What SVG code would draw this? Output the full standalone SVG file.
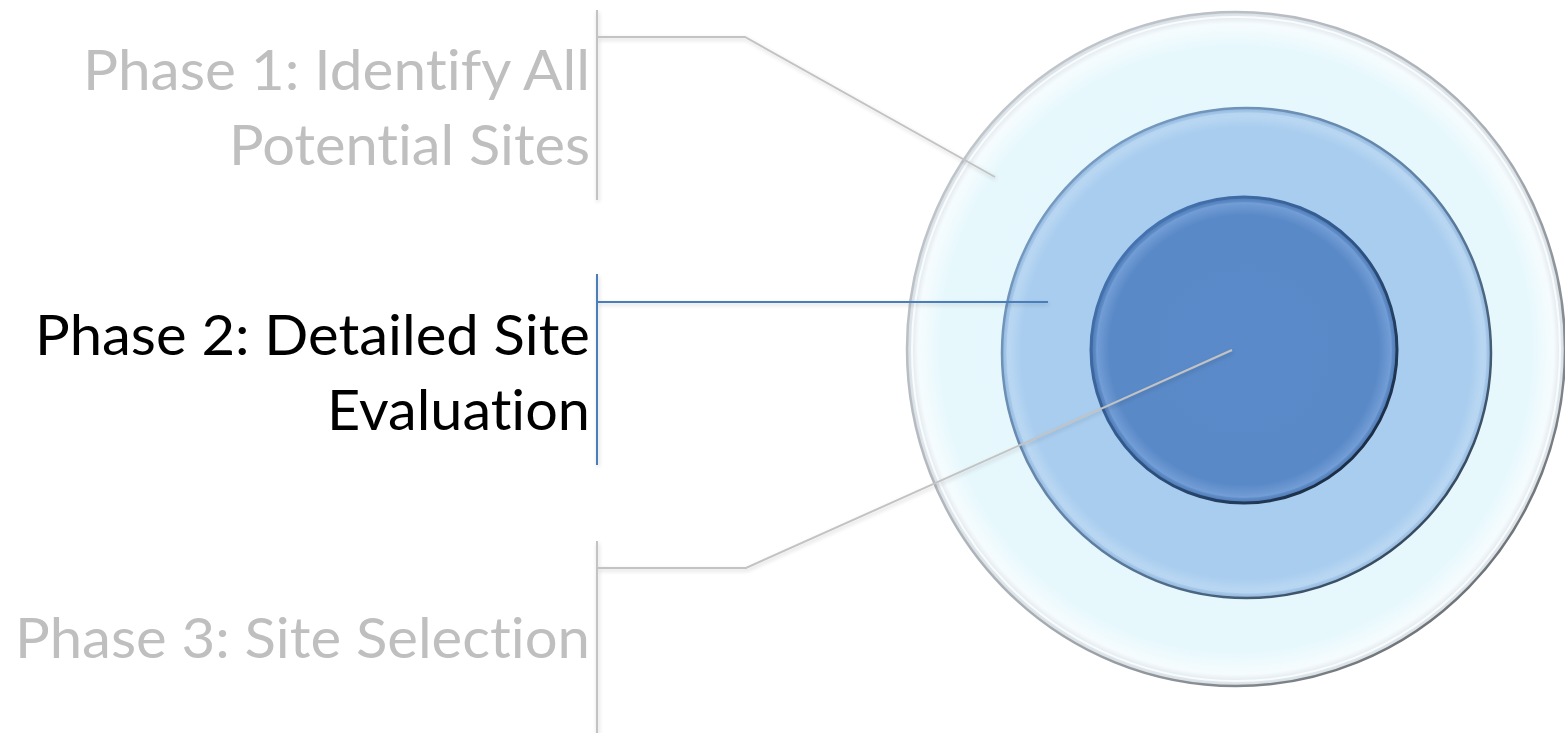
<svg xmlns="http://www.w3.org/2000/svg" width="1565" height="733" viewBox="0 0 1565 733">
<style>
  .lbl { font-family: "Lato", "Open Sans", "Liberation Sans", sans-serif; font-size: 57px; text-anchor: end; font-variant-ligatures: none; font-feature-settings: "liga" 0, "clig" 0; }
  .dim { fill: #bfbfbf; }
  .act { fill: #000000; }
  .cg { fill: none; stroke: #c3c3c3; stroke-width: 2; }
  .cb { fill: none; stroke: #4a7ebb; stroke-width: 2; }
</style>
<defs>
  <filter id="sh" x="-5%" y="-20%" width="110%" height="140%">
    <feGaussianBlur in="SourceAlpha" stdDeviation="2"/>
    <feOffset dx="1" dy="2" result="b"/>
    <feComponentTransfer><feFuncA type="linear" slope="0.18"/></feComponentTransfer>
    <feMerge><feMergeNode/><feMergeNode in="SourceGraphic"/></feMerge>
  </filter>
  <radialGradient id="gOuter" cx="0.5" cy="0.5" r="0.5">
    <stop offset="0" stop-color="#e3f6fc"/>
    <stop offset="0.9" stop-color="#e7f8fd"/>
    <stop offset="0.965" stop-color="#f6fcfe"/>
    <stop offset="1" stop-color="#d4dde4"/>
  </radialGradient>
  <linearGradient id="rOuter" x1="0" y1="0" x2="1" y2="1">
    <stop offset="0" stop-color="#c9ced3"/>
    <stop offset="0.55" stop-color="#a7adb3"/>
    <stop offset="1" stop-color="#55595d"/>
  </linearGradient>
  <radialGradient id="gMid" cx="0.5" cy="0.5" r="0.5">
    <stop offset="0" stop-color="#a8cdf0"/>
    <stop offset="0.92" stop-color="#a9cdef"/>
    <stop offset="0.97" stop-color="#b9d7f2"/>
    <stop offset="1" stop-color="#8fb6de"/>
  </radialGradient>
  <linearGradient id="rMid" x1="0" y1="0" x2="1" y2="1">
    <stop offset="0" stop-color="#7ea3cc"/>
    <stop offset="0.55" stop-color="#5d7d9f"/>
    <stop offset="1" stop-color="#26323e"/>
  </linearGradient>
  <radialGradient id="gIn" cx="0.5" cy="0.5" r="0.5">
    <stop offset="0" stop-color="#5a8ac9"/>
    <stop offset="0.88" stop-color="#5989c7"/>
    <stop offset="0.95" stop-color="#6f9ad3"/>
    <stop offset="1" stop-color="#4a78b4"/>
  </radialGradient>
  <linearGradient id="rIn" x1="0" y1="0" x2="1" y2="1">
    <stop offset="0" stop-color="#4d7fc0"/>
    <stop offset="0.5" stop-color="#2f5586"/>
    <stop offset="1" stop-color="#141e2a"/>
  </linearGradient>
</defs>

<g id="outer-ring">
  <ellipse cx="1236" cy="349" rx="329" ry="337" fill="url(#gOuter)" stroke="url(#rOuter)" stroke-width="2.5"/>
  <ellipse cx="1236" cy="349" rx="324" ry="332" fill="none" stroke="#ffffff" stroke-opacity="0.8" stroke-width="2"/>
</g>
<g id="middle-ring">
  <ellipse cx="1246.5" cy="353" rx="244.5" ry="245" fill="url(#gMid)" stroke="url(#rMid)" stroke-width="2.5"/>
  <ellipse cx="1246.5" cy="353" rx="239" ry="239.5" fill="none" stroke="#bcd9f4" stroke-opacity="0.7" stroke-width="2"/>
</g>
<g id="inner-circle">
  <circle cx="1244" cy="350" r="153" fill="url(#gIn)" stroke="url(#rIn)" stroke-width="3"/>
  <circle cx="1244" cy="350" r="147" fill="none" stroke="#78a4dc" stroke-opacity="0.6" stroke-width="2"/>
</g>

<g id="connectors" filter="url(#sh)">
  <line class="cg" x1="597" y1="10" x2="597" y2="200"/>
  <polyline class="cg" points="597,37 745,37 995,177"/>
  <line class="cb" x1="597" y1="274" x2="597" y2="465"/>
  <line class="cb" x1="597" y1="302" x2="1048" y2="302"/>
  <line class="cg" x1="597" y1="541" x2="597" y2="733"/>
  <polyline class="cg" points="597,568 746,568 1232,350"/>
</g>

<g id="phase1">
  <text class="lbl dim" x="590" y="90" textLength="507" lengthAdjust="spacingAndGlyphs">Phase 1: Identify All</text>
  <text class="lbl dim" x="590" y="165" textLength="361" lengthAdjust="spacingAndGlyphs">Potential Sites</text>
</g>
<g id="phase2">
  <text class="lbl act" x="590" y="355" textLength="555" lengthAdjust="spacingAndGlyphs">Phase 2: Detailed Site</text>
  <text class="lbl act" x="590" y="430" textLength="263" lengthAdjust="spacingAndGlyphs">Evaluation</text>
</g>
<g id="phase3">
  <text class="lbl dim" x="590" y="658" textLength="575" lengthAdjust="spacingAndGlyphs">Phase 3: Site Selection</text>
</g>
</svg>
